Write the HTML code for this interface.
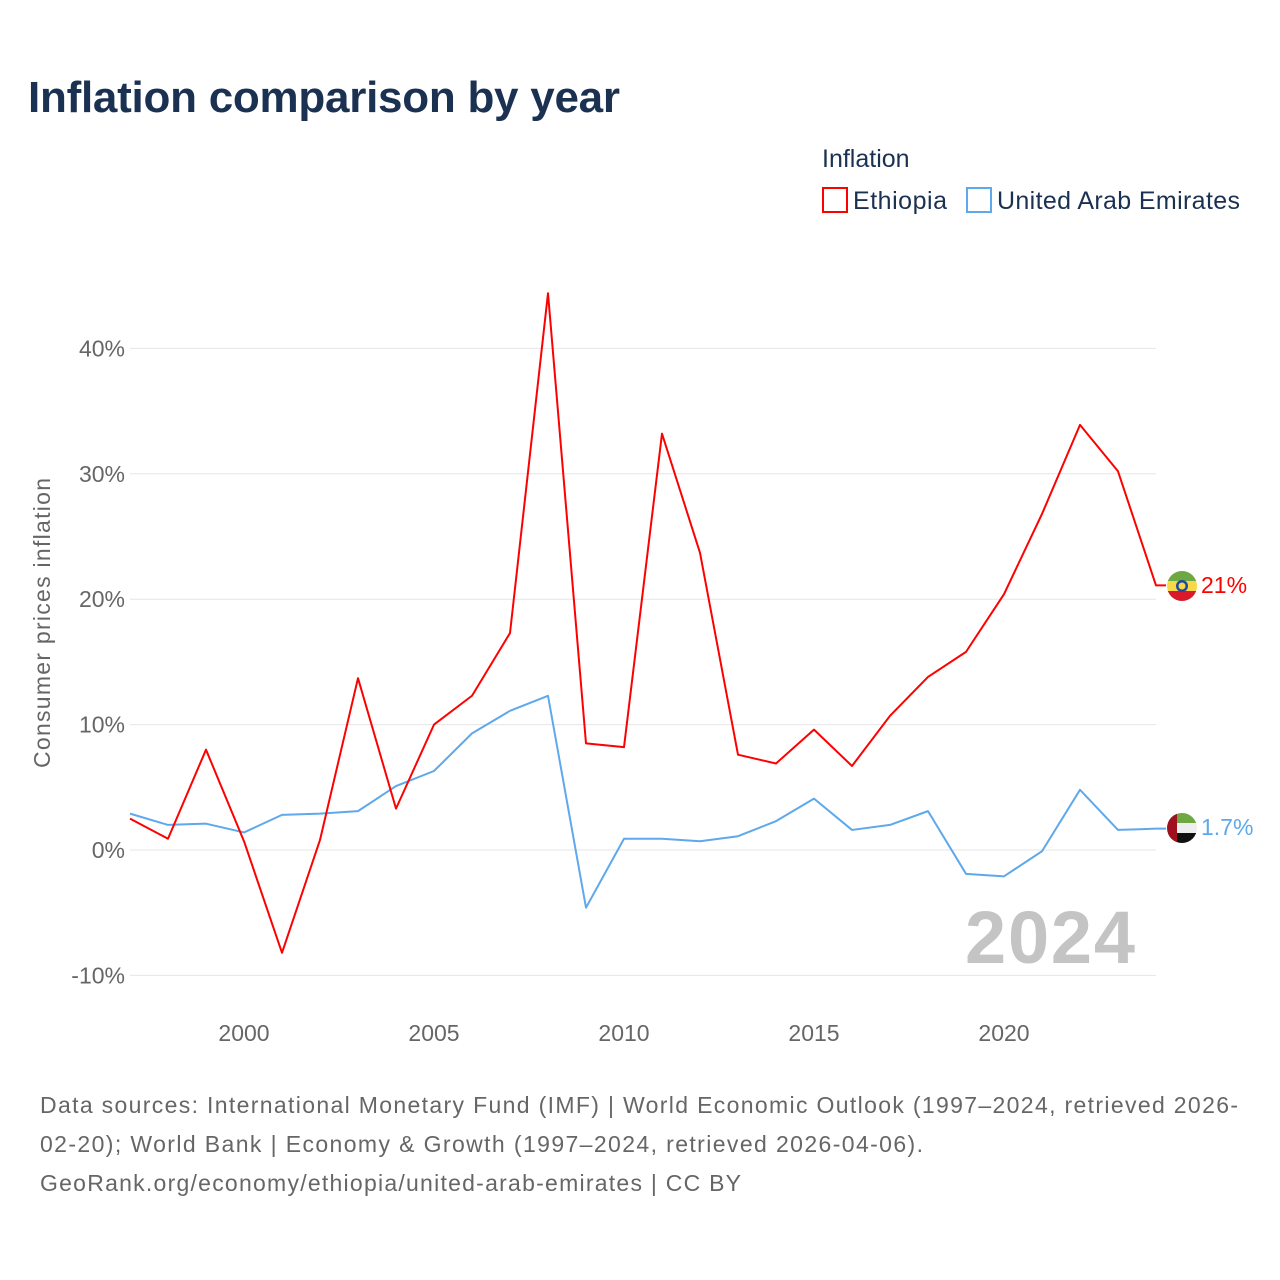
<!DOCTYPE html>
<html><head><meta charset="utf-8"><style>
body{margin:0;background:#fff;font-family:"Liberation Sans",sans-serif;}
#wrap{position:relative;width:1280px;height:1280px;overflow:hidden}
</style></head><body>
<div id="wrap">
<svg id="chart" width="1280" height="1280" xmlns="http://www.w3.org/2000/svg">
<defs>
<clipPath id="c1"><circle cx="1182" cy="586" r="15"/></clipPath>
<clipPath id="c2"><circle cx="1182" cy="828" r="15"/></clipPath>
</defs>
<text x="28" y="112" font-size="44" font-weight="bold" fill="#1b3152" textLength="592">Inflation comparison by year</text>
<text x="822" y="167" font-size="25" fill="#1b3152">Inflation</text>
<g>
<rect x="823" y="188" width="24" height="24" fill="#fff" stroke="#ff0000" stroke-width="2"/>
<text x="853" y="209" font-size="25" fill="#1b3152" textLength="94">Ethiopia</text></g>
<g>
<rect x="967" y="188" width="24" height="24" fill="#fff" stroke="#5ea8ec" stroke-width="2"/>
<text x="997" y="209" font-size="25" fill="#1b3152" textLength="243">United Arab Emirates</text></g>
<g id="grid"></g>
<text transform="translate(50,623) rotate(-90)" text-anchor="middle" font-size="23" fill="#666" textLength="290">Consumer prices inflation</text>
<text x="1135" y="963" text-anchor="end" font-size="74" font-weight="bold" fill="#c4c4c4" textLength="170">2024</text>
<g id="series"></g>
<g clip-path="url(#c1)">
<rect x="1166" y="570" width="32" height="11" fill="#6ea842"/><rect x="1166" y="581" width="32" height="10" fill="#f8d848"/><rect x="1166" y="591" width="32" height="11" fill="#d91a2a"/>
<circle cx="1182" cy="586" r="6" fill="#1c4aa0"/><circle cx="1182" cy="586" r="3.5" fill="#f8d848"/></g>
<g clip-path="url(#c2)">
<rect x="1166" y="812" width="32" height="11" fill="#6ea842"/><rect x="1166" y="823" width="32" height="10" fill="#eee"/><rect x="1166" y="833" width="32" height="11" fill="#111"/><rect x="1166" y="812" width="11" height="32" fill="#a0101e"/></g>
<text x="1201" y="593" font-size="23" fill="#ff0000">21%</text>
<text x="1201" y="835" font-size="23" fill="#5ea8ec">1.7%</text>
<text font-size="23" fill="#666">
<tspan x="40" y="1113" textLength="1198">Data sources: International Monetary Fund (IMF) | World Economic Outlook (1997–2024, retrieved 2026-</tspan>
<tspan x="40" y="1152" textLength="883">02-20); World Bank | Economy &amp; Growth (1997–2024, retrieved 2026-04-06).</tspan>
<tspan x="40" y="1191" textLength="701">GeoRank.org/economy/ethiopia/united-arab-emirates | CC BY</tspan></text>
</svg>
</div>
<script>
const years=[1997,1998,1999,2000,2001,2002,2003,2004,2005,2006,2007,2008,2009,2010,2011,2012,2013,2014,2015,2016,2017,2018,2019,2020,2021,2022,2023,2024];
const ethiopia=[2.5,0.9,8.0,0.7,-8.2,0.8,13.7,3.3,10.0,12.3,17.3,44.4,8.5,8.2,33.2,23.7,7.6,6.9,9.6,6.7,10.7,13.8,15.8,20.4,26.8,33.9,30.2,21.1];
const uae=[2.9,2.0,2.1,1.4,2.8,2.9,3.1,5.1,6.3,9.3,11.1,12.3,-4.6,0.9,0.9,0.7,1.1,2.3,4.1,1.6,2.0,3.1,-1.9,-2.1,-0.1,4.8,1.6,1.7];
const yTicks=[-10,0,10,20,30,40];
const xTicks=[2000,2005,2010,2015,2020];
const NS="http://www.w3.org/2000/svg";
const xs=y=>130+(y-1997)*38;
const ys=v=>850-v*12.54;
const grid=document.getElementById('grid');
yTicks.forEach(t=>{
 const l=document.createElementNS(NS,'line');
 l.setAttribute('x1',130);l.setAttribute('x2',1156);l.setAttribute('y1',ys(t));l.setAttribute('y2',ys(t));
 l.setAttribute('stroke','#e6e6e6');l.setAttribute('stroke-width',1);
 
 
 grid.appendChild(l);
 const tx=document.createElementNS(NS,'text');
 tx.setAttribute('x',125);tx.setAttribute('y',ys(t)+8);tx.setAttribute('text-anchor','end');
 tx.setAttribute('font-size',23);tx.setAttribute('fill','#666');tx.textContent=t+'%';
 
 
 grid.appendChild(tx);
});
xTicks.forEach(t=>{
 const tx=document.createElementNS(NS,'text');
 tx.setAttribute('x',xs(t));tx.setAttribute('y',1041);tx.setAttribute('text-anchor','middle');
 tx.setAttribute('font-size',23);tx.setAttribute('fill','#666');tx.textContent=t;
 
 
 grid.appendChild(tx);
});
const ser=document.getElementById('series');
function line(vals,color,name){
 const p=document.createElementNS(NS,'path');
 let d=vals.map((v,i)=>(i?'L':'M')+xs(years[i])+','+ys(v)).join(' ');
 d+=' L'+(xs(years[years.length-1])+10)+','+ys(vals[vals.length-1]);
 p.setAttribute('d',d);p.setAttribute('fill','none');p.setAttribute('stroke',color);p.setAttribute('stroke-width',2);
 p.setAttribute('stroke-linejoin','round');
 
 
 ser.appendChild(p);
}
line(uae,'#5ea8ec','uae-line');
line(ethiopia,'#ff0000','ethiopia-line');
</script>
</body></html>
